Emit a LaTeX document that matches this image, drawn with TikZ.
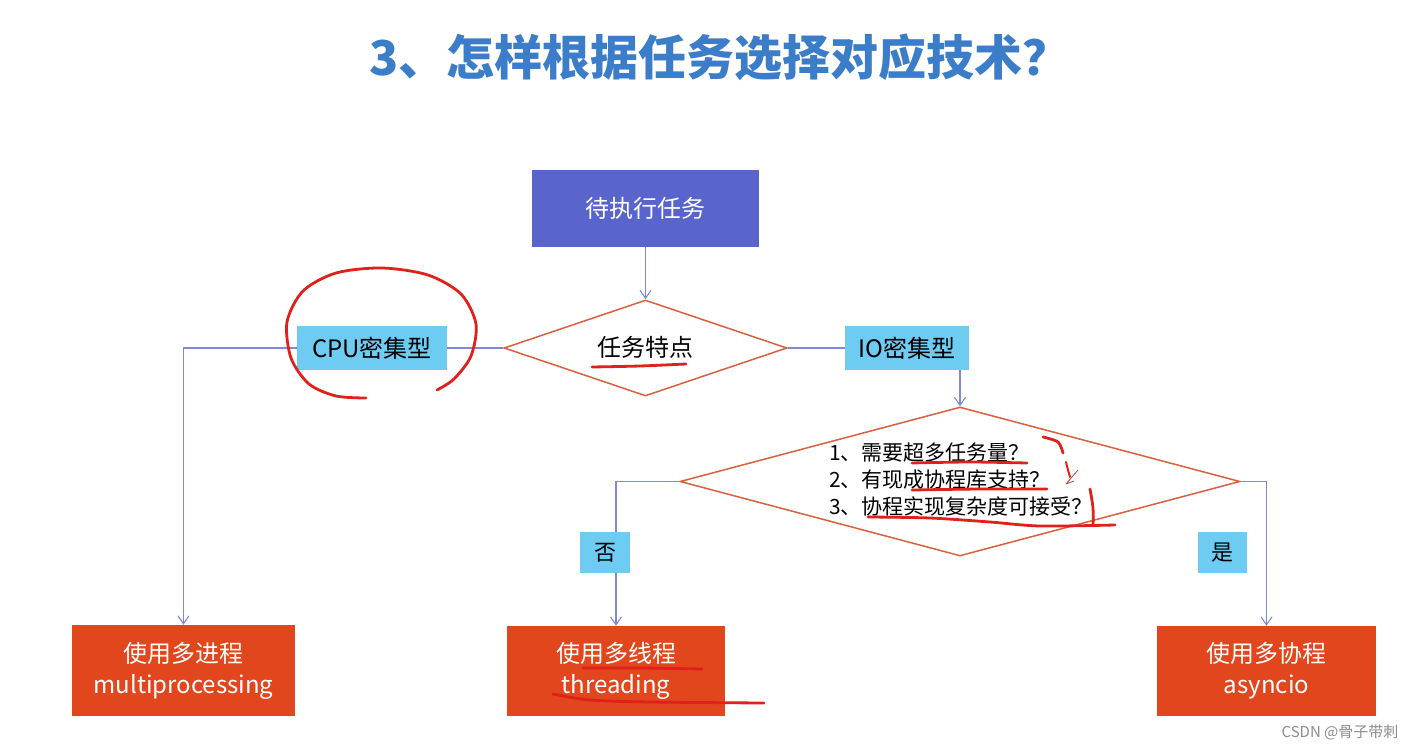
\documentclass[tikz,border=0pt]{standalone}
\usepackage{fontspec}
\setmainfont{Noto Sans CJK SC}
\usetikzlibrary{shapes.geometric,arrows.meta}
\definecolor{titleblue}{HTML}{3B7DC9}
\definecolor{topfill}{HTML}{5965CC}
\definecolor{dmcol}{HTML}{D9603F}
\definecolor{lblue}{HTML}{6ECBF2}
\definecolor{redbox}{HTML}{E2461D}
\definecolor{conncol}{HTML}{8088D8}
\definecolor{pen}{HTML}{E0201A}
\tikzset{
  boxtop/.style={rectangle, fill=topfill, text=white, inner sep=0pt, font=\fontsize{24}{28}\selectfont},
  decide/.style={diamond, draw=dmcol, line width=1.5pt, fill=white, inner sep=0pt, aspect=2.9},
  tag/.style={rectangle, fill=lblue, text=black, inner sep=0pt, font=\fontsize{24}{28}\selectfont},
  tagsmall/.style={rectangle, fill=lblue, text=black, inner sep=0pt, font=\fontsize{22}{26}\selectfont},
  result/.style={rectangle, fill=redbox, text=white, inner sep=0pt, align=center, font=\fontsize{24}{31}\selectfont},
  conn/.style={draw=conncol, line width=1.1pt},
  connarrow/.style={conn, -{Straight Barb[length=8pt,width=11pt,line width=1.1pt]}},
  penline/.style={draw=pen, line width=2.8pt, line cap=round, line join=round},
}
\begin{document}
\begin{tikzpicture}[x=1pt,y=-1pt]
\useasboundingbox[fill=white] (0,0) rectangle (1423,751);

\node[text=titleblue, font=\fontsize{48}{54}\selectfont\bfseries] (title) at (720,57) {3、怎样根据任务选择对应技术？};

\node[boxtop, minimum width=227pt, minimum height=77pt] (top) at (645.5,208.5) {待执行任务};
\node[decide, minimum width=283pt, minimum height=96pt] (d1) at (645.5,348) {};
\node[font=\fontsize{24}{28}\selectfont] (d1text) at (645.5,347) {任务特点};
\node[decide, minimum width=560pt, minimum height=149pt, aspect=3.76] (d2) at (960,481.5) {};
\node[align=left, inner sep=0pt, font=\fontsize{21}{27}\selectfont] (d2text) at (961,480) {1、需要超多任务量？\\2、有现成协程库支持？\\3、协程实现复杂度可接受？};

\node[result, minimum width=223pt, minimum height=91pt] (mp) at (183.5,670.5) {使用多进程\\multiprocessing};
\node[result, minimum width=218pt, minimum height=90pt] (th) at (616,671) {使用多线程\\threading};
\node[result, minimum width=219pt, minimum height=90pt] (as) at (1266.5,671) {使用多协程\\asyncio};

% connectors
\draw[connarrow] (top.south) -- (d1.north);
\draw[connarrow] (d1.west) -| (mp.north);
\draw[connarrow] (d1.east) -| (d2.north);
\draw[connarrow] (d2.west) -| (th.north);
\draw[connarrow] (d2.east) -| (as.north);

% labels on connectors
\node[tag, minimum width=150pt, minimum height=44pt] (cpu) at (372,348) {CPU密集型};
\node[tag, minimum width=124pt, minimum height=44pt] (io) at (907,348) {IO密集型};
\node[tagsmall, minimum width=50pt, minimum height=41pt] (no) at (605,552.5) {否};
\node[tagsmall, minimum width=49pt, minimum height=41pt] (yes) at (1222.5,552.5) {是};

% hand-drawn annotations
\draw[penline] plot[smooth] coordinates {(366,398) (336,396) (309,384) (291,358) (287,322) (303,291) (336,273) (382,268) (428,275) (461,294) (476,324) (471,356) (454,379) (437,390)};
\draw[penline] plot[smooth] coordinates {(592,367) (640,366) (686,364)};
\draw[penline] plot[smooth] coordinates {(912,463) (970,462) (1027,463)};
\draw[penline] plot[smooth] coordinates {(912,490) (980,489) (1047,489)};
\draw[penline] plot[smooth] coordinates {(868,517) (930,518) (990,522) (1040,526) (1115,525)};
\draw[penline] plot[smooth] coordinates {(1090,489) (1093,508) (1093,526)};
\draw[penline] plot[smooth] coordinates {(1043,437) (1058,442) (1063,453)};
\draw[penline, line width=2pt] plot[smooth] coordinates {(1066,462) (1068,470) (1070,477)};
\draw[pen!60!gray, line width=0.8pt] (1066,484) -- (1078,470) (1066,484) -- (1074,481);
\draw[penline] plot[smooth] coordinates {(583,668) (640,668) (702,669)};
\draw[penline] plot[smooth] coordinates {(553,694) (590,700) (650,702) (764,703)};

\node[text=black!45, font=\fontsize{15}{18}\selectfont] (csdn) at (1340,733) {CSDN @骨子带刺};
\end{tikzpicture}
\end{document}
